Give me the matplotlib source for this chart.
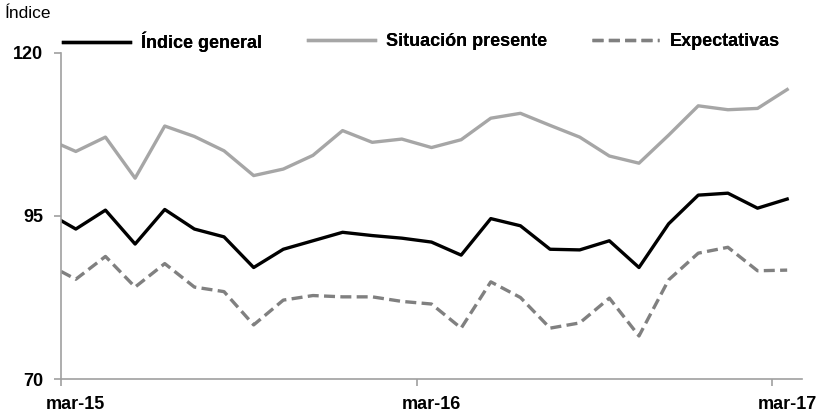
import matplotlib
matplotlib.use("Agg")
import matplotlib.pyplot as plt
import numpy as np

plt.rcParams['font.family'] = ['Liberation Sans', 'DejaVu Sans']

# months since mar-15 (first observation at start of month, the rest mid-month)
months = [0.0] + [0.5 + i for i in range(25)]

general = [94.3, 93.0, 95.9, 90.7, 96.0, 93.0, 91.8, 87.1, 89.9, 91.2, 92.5, 92.0, 91.6,
           91.0, 89.0, 94.6, 93.5, 89.9, 89.8, 91.2, 87.1, 93.8, 98.2, 98.5, 96.2, 97.6]
presente = [105.9, 104.9, 107.1, 100.8, 108.8, 107.2, 105.0, 101.2, 102.2, 104.3, 108.1, 106.3, 106.8,
            105.5, 106.7, 110.0, 110.75, 108.9, 107.1, 104.2, 103.1, 107.4, 111.9, 111.3, 111.5, 114.4]
expectativas = [86.5, 85.3, 88.8, 84.1, 87.7, 84.1, 83.4, 78.3, 82.1, 82.8, 82.6, 82.6, 81.9,
                81.5, 77.8, 84.9, 82.5, 77.8, 78.6, 82.4, 76.6, 85.2, 89.3, 90.2, 86.6, 86.7]

tick_pos = [0, 12, 24]
label_pos = [0.5, 12.5, 24.5]
tick_labels = ['mar-15', 'mar-16', 'mar-17']
y_ticks = [70, 95, 120]

W, H = 817, 416
fig = plt.figure(figsize=(W / 100, H / 100), dpi=100)
ax = fig.add_axes([61 / W, 37 / H, 741 / W, 326 / H])

l1, = ax.plot(months, general, color='black', lw=2.4, label='Índice general')
l2, = ax.plot(months, presente, color='#A6A6A6', lw=2.4, label='Situación presente')
l3, = ax.plot(months, expectativas, color='#808080', lw=2.4, ls=(0, (3.3, 1.6)), label='Expectativas')

ax.set_xlim(0, 25)
ax.set_ylim(70, 120)
ax.set_yticks(y_ticks)
ax.set_xticks(tick_pos)
ax.set_xticklabels([])
ax.set_xticks(label_pos, minor=True)
ax.set_xticklabels(tick_labels, minor=True)
for s in ['top', 'right']:
    ax.spines[s].set_visible(False)
for s in ['left', 'bottom']:
    ax.spines[s].set_color('#A0A0A0')
    ax.spines[s].set_linewidth(1.2)
ax.tick_params(axis='both', which='major', colors='#A0A0A0', length=5, width=1.2,
               labelcolor='black', labelsize=13)
ax.tick_params(axis='x', which='minor', length=0, labelsize=13, pad=12, labelcolor='black')
ax.tick_params(axis='y', pad=8)
for t in ax.get_xticklabels(minor=True) + ax.get_yticklabels():
    t.set_fontweight('bold')

fig.text(5 / W, 1 - 14 / H, 'Índice', fontsize=12.5, va='center', ha='left')

# legend entries placed individually (left edge of handle in pixels)
for handle, x0 in [(l1, 63), (l2, 308), (l3, 592)]:
    leg = fig.legend(handles=[handle], loc='center left', bbox_to_anchor=(x0 / W, 1 - 42 / H),
                     frameon=False, prop={'weight': 'bold', 'size': 13},
                     handlelength=3.7, handletextpad=0.6, borderaxespad=0, borderpad=0)
    fig.add_artist(leg)

fig.savefig('out.png', dpi=100)
